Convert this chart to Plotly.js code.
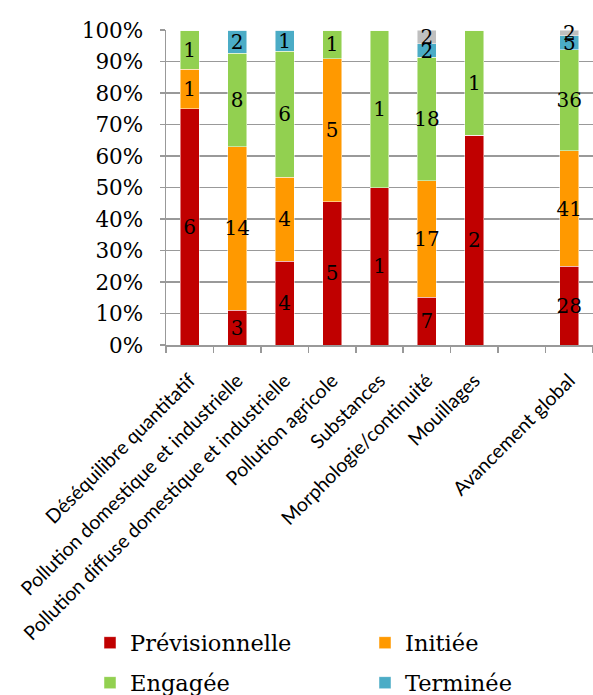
<!DOCTYPE html>
<html>
<head>
<meta charset="utf-8">
<script src="https://cdn.plot.ly/plotly-3.0.1.min.js"></script>
<style>html,body{margin:0;padding:0;background:#fff;}#chart{width:593px;height:695px;}</style>
</head>
<body>
<div id="chart"></div>
<script>
const categories = ["Déséquilibre quantitatif", "Pollution domestique et industrielle", "Pollution diffuse domestique et industrielle", "Pollution agricole", "Substances", "Morphologie/continuité", "Mouillages", " ", "Avancement global"];
const previsionnelle = [6, 3, 4, 5, 1, 7, 2, 0, 28];
const initiee       = [1, 14, 4, 5, 0, 17, 0, 0, 41];
const engagee       = [1, 8, 6, 1, 1, 18, 1, 0, 36];
const terminee      = [0, 2, 1, 0, 0, 2, 0, 0, 5];
const abandonnee    = [0, 0, 0, 0, 0, 2, 0, 0, 2];
const yTickValues   = [0, 10, 20, 30, 40, 50, 60, 70, 80, 90, 100];
const yTickLabels   = ["0%", "10%", "20%", "30%", "40%", "50%", "60%", "70%", "80%", "90%", "100%"];

const series = [
  {name: "Prévisionnelle", values: previsionnelle, color: "#C00000", legend: "legend"},
  {name: "Initiée", values: initiee, color: "#FF9900", legend: "legend2"},
  {name: "Engagée", values: engagee, color: "#92D050", legend: "legend3"},
  {name: "Terminée", values: terminee, color: "#4BACC6", legend: "legend4"},
  {name: "Abandonnée", values: abandonnee, color: "#BFBFBF", legend: "legend4", hide: true}
];

const serif = "DejaVu Serif, Liberation Serif, serif";
const traces = series.map(s => ({
  type: "bar",
  name: s.name,
  x: categories,
  y: s.values,
  text: s.values.map(v => v ? String(v) : ""),
  textposition: "inside",
  insidetextanchor: "middle",
  constraintext: "none",
  textangle: 0,
  textfont: {family: serif, size: 20, color: "#000"},
  marker: {color: s.color, line: {color: "rgba(255,255,255,0.6)", width: 0.8}},
  legend: s.legend,
  showlegend: !s.hide,
  cliponaxis: false
}));

const W = 593, H = 695;
const plotTop = 30, plotBottom = 345, plotLeft = 166;
const plotH = plotBottom - plotTop, plotW = W - plotLeft;
const px2x = p => (p - plotLeft) / plotW;
const px2y = p => (plotBottom - p) / plotH;

function legendAt(left, centerY) {
  return {
    orientation: "h",
    x: px2x(left), y: px2y(centerY), xanchor: "left", yanchor: "middle",
    font: {family: serif, size: 22.5, color: "#000"},
    bgcolor: "rgba(0,0,0,0)"
  };
}

const layout = {
  width: W, height: H,
  margin: {l: plotLeft, r: 0, t: plotTop, b: H - plotBottom, autoexpand: false},
  barmode: "stack",
  barnorm: "percent",
  bargap: 0.6,
  paper_bgcolor: "#fff",
  plot_bgcolor: "#fff",
  xaxis: {
    type: "category",
    tickangle: -45,
    tickson: "boundaries",
    ticks: "outside",
    ticklen: 6,
    tickcolor: "#999",
    tickwidth: 1.5,
    ticklabelstandoff: 15,
    showline: true,
    linecolor: "#999",
    linewidth: 1.5,
    showgrid: false,
    tickfont: {family: "Lato, Carlito, sans-serif", size: 19.5, color: "#000"}
  },
  yaxis: {
    range: [0, 100.0001],
    tickmode: "array",
    tickvals: yTickValues,
    ticktext: yTickLabels,
    ticks: "outside",
    ticklen: 5,
    tickcolor: "#999",
    tickwidth: 1.5,
    ticklabelstandoff: 12,
    showline: true,
    linecolor: "#999",
    linewidth: 1.5,
    gridcolor: "#999",
    gridwidth: 1.5,
    zeroline: false,
    tickfont: {family: serif, size: 21.5, color: "#000"}
  },
  legend: legendAt(90, 643),
  legend2: legendAt(365, 643),
  legend3: legendAt(90, 683),
  legend4: legendAt(365, 683),
  showlegend: true
};

Plotly.newPlot("chart", traces, layout, {displayModeBar: false, staticPlot: true});
</script>
</body>
</html>
